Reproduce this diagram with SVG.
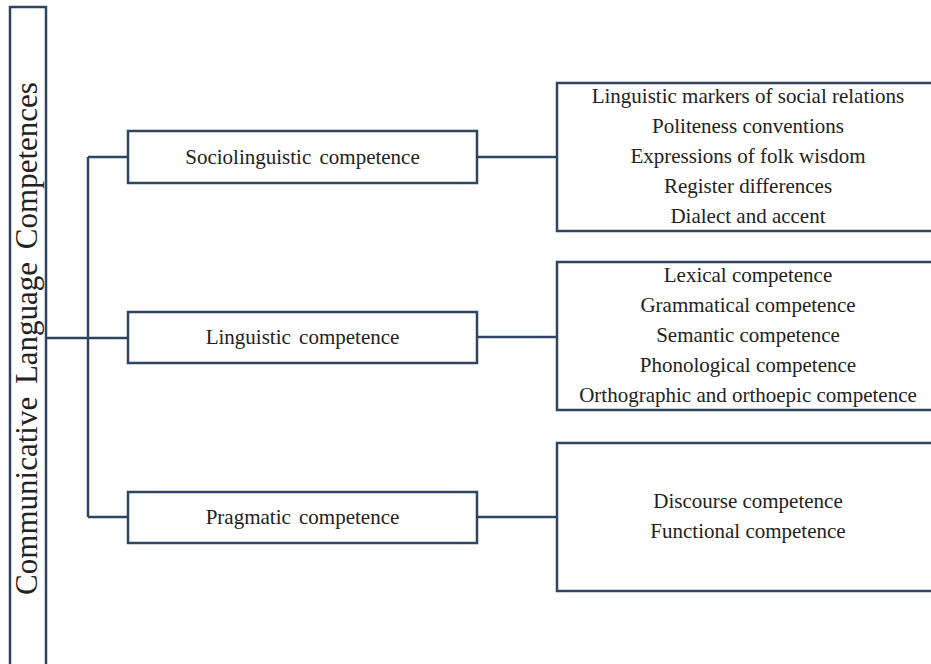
<svg xmlns="http://www.w3.org/2000/svg" width="931" height="664" viewBox="0 0 931 664">
<style>
.box{fill:#fff;stroke:#2f4461;stroke-width:2.5}
.con{fill:none;stroke:#2f4461;stroke-width:2.5}
text{font-family:"Liberation Serif","Times New Roman",serif;fill:#222;text-anchor:middle}
.t{font-size:21px}
.title{font-size:31px;word-spacing:5px}
</style>
<rect width="931" height="664" fill="#fff"/>
<g id="connectors">
<path class="con" d="M46 338H128M88 157V517M88 157H128M88 517H128M477 157H557M477 337H557M477 517H557"/>
</g>
<g id="root">
<rect class="box" x="10" y="7" width="36" height="670"/>
<text class="title" transform="translate(37 338.5) rotate(-90)">Communicative Language Competences</text>
</g>
<g id="sociolinguistic">
<rect class="box" x="128" y="131" width="349" height="52"/>
<text class="t" x="302.5" y="164" word-spacing="3">Sociolinguistic competence</text>
</g>
<g id="linguistic">
<rect class="box" x="128" y="312" width="349" height="51"/>
<text class="t" x="302.5" y="344" word-spacing="3">Linguistic competence</text>
</g>
<g id="pragmatic">
<rect class="box" x="128" y="492" width="349" height="51"/>
<text class="t" x="302.5" y="524" word-spacing="3">Pragmatic competence</text>
</g>
<g id="socio-details">
<rect class="box" x="557" y="83" width="390" height="148"/>
<text class="t" x="748" y="103">Linguistic markers of social relations</text>
<text class="t" x="748" y="133">Politeness conventions</text>
<text class="t" x="748" y="163">Expressions of folk wisdom</text>
<text class="t" x="748" y="193">Register differences</text>
<text class="t" x="748" y="223">Dialect and accent</text>
</g>
<g id="ling-details">
<rect class="box" x="557" y="262" width="390" height="148"/>
<text class="t" x="748" y="282">Lexical competence</text>
<text class="t" x="748" y="312">Grammatical competence</text>
<text class="t" x="748" y="342">Semantic competence</text>
<text class="t" x="748" y="372">Phonological competence</text>
<text class="t" x="748" y="402">Orthographic and orthoepic competence</text>
</g>
<g id="prag-details">
<rect class="box" x="557" y="443" width="390" height="148"/>
<text class="t" x="748" y="508">Discourse competence</text>
<text class="t" x="748" y="538">Functional competence</text>
</g>
</svg>
